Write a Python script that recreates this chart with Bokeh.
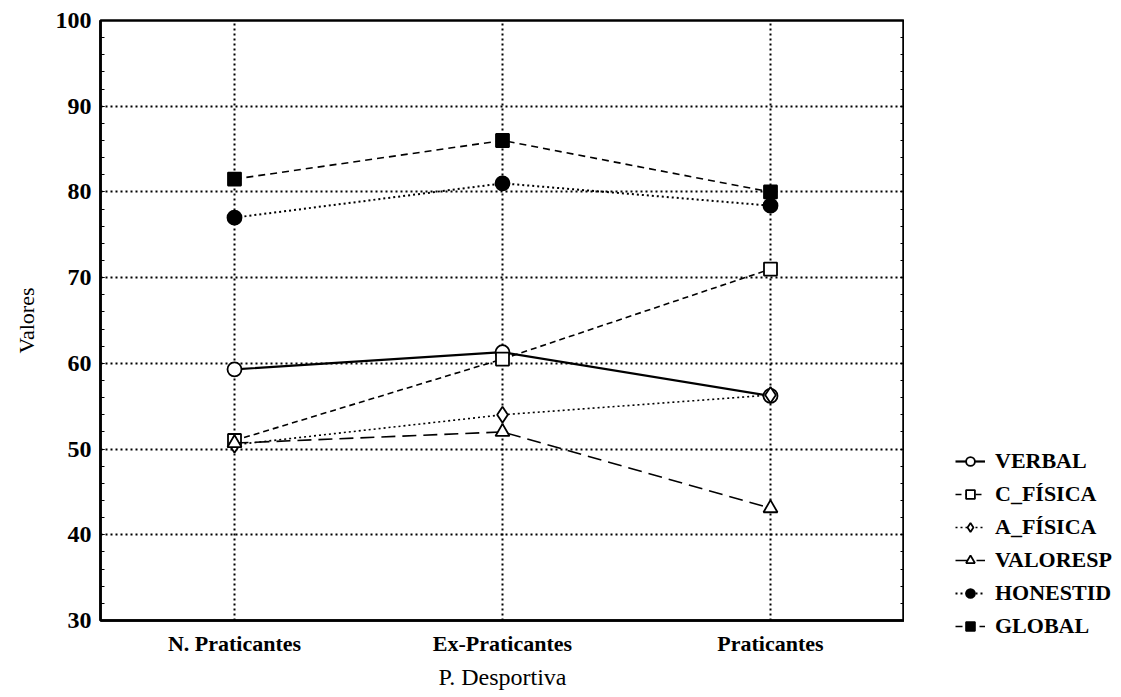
from bokeh.plotting import figure
from bokeh.layouts import row
from bokeh.models import (Range1d, FixedTicker, SingleIntervalTicker, LinearAxis,
                          Legend, LegendItem, CustomJSTickFormatter)
from bokeh.embed import file_html
from bokeh.resources import INLINE

categories = ["N. Praticantes", "Ex-Praticantes", "Praticantes"]
verbal = [59.3, 61.3, 56.2]
c_fisica = [51.0, 60.5, 71.0]
a_fisica = [50.5, 54.0, 56.3]
valoresp = [50.7, 52.0, 43.1]
honestid = [77.0, 81.0, 78.4]
global_ = [81.5, 86.0, 80.0]
y_ticks = [30, 40, 50, 60, 70, 80, 90, 100]

FONT = "Liberation Serif"
xs = list(range(1, len(categories) + 1))
H = 695

p = figure(frame_width=804, frame_height=600, output_backend="svg", toolbar_location=None,
           x_range=Range1d(0.5, len(categories) + 0.5), y_range=Range1d(30, 100),
           min_border_left=100, min_border_top=20, min_border_bottom=H - 620, min_border_right=0,
           background_fill_color="white", border_fill_color="white")
p.frame_align = False

p.outline_line_color = "black"
p.outline_line_width = 2.5

# axes
xa = p.xaxis[0]
xa.ticker = FixedTicker(ticks=xs)
xa.major_label_overrides = {x: c for x, c in zip(xs, categories)}
xa.axis_label = "P. Desportiva"
xa.major_tick_out = 0
xa.major_tick_in = 0
xa.axis_line_width = 2.5
xa.major_label_standoff = 10
xa.axis_label_standoff = 5
xa.major_label_text_font_size = "22px"
xa.axis_label_text_font_size = "24px"

ya = p.yaxis[0]
ya.ticker = SingleIntervalTicker(interval=10, num_minor_ticks=5)
ya.axis_label = "Valores"
ya.major_tick_out = 0
ya.major_tick_in = 4
ya.minor_tick_in = 4
ya.minor_tick_out = 0
ya.axis_line_width = 2.5
ya.major_label_standoff = 9
ya.axis_label_standoff = 14
ya.major_label_text_font_size = "24px"
ya.axis_label_text_font_size = "22px"

for ax in (xa, ya):
    ax.major_label_text_font = FONT
    ax.major_label_text_font_style = "bold"
    ax.major_label_text_color = "black"
    ax.axis_label_text_font = FONT
    ax.axis_label_text_font_style = "normal"
    ax.axis_label_text_color = "black"
    ax.axis_line_color = "black"

ra = LinearAxis(ticker=SingleIntervalTicker(interval=10, num_minor_ticks=5),
                formatter=CustomJSTickFormatter(code="return ''"),
                major_tick_out=0, major_tick_in=4, minor_tick_in=4, minor_tick_out=0,
                major_label_standoff=0,
                axis_line_color="black", axis_line_width=2.5)
p.add_layout(ra, "right")

# grid
p.xgrid.ticker = FixedTicker(ticks=xs)
p.ygrid.ticker = FixedTicker(ticks=y_ticks[1:-1])
for g in (p.xgrid[0], p.ygrid[0]):
    g.grid_line_color = "black"
    g.grid_line_width = 2
    g.grid_line_dash = "2 3"

series = [
    ("VERBAL", verbal, "solid", 2.2, "circle", "white"),
    ("C_FÍSICA", c_fisica, "6 4", 1.6, "square", "white"),
    ("A_FÍSICA", a_fisica, "2 3", 1.6, "diamond", "white"),
    ("VALORESP", valoresp, "14 7", 1.6, "triangle", "white"),
    ("HONESTID", honestid, "2 3", 2.0, "circle", "black"),
    ("GLOBAL", global_, "7 5", 1.6, "square", "black"),
]
sizes = {"circle": 14, "square": 13, "diamond": 16, "triangle": 14}

# legend panel figure (its ranges keep the series' own marks out of view;
# only the legend is shown there)
q = figure(width=210, height=H, output_backend="svg", toolbar_location=None,
           x_range=Range1d(100, 101), y_range=Range1d(1000, 1001), min_border=0,
           x_axis_location=None, y_axis_location=None,
           background_fill_color="white", border_fill_color="white")
q.frame_align = False
q.outline_line_color = None
q.xgrid.visible = False
q.ygrid.visible = False

items = []
for name, vals, dash, lw, marker, fill in series:
    p.line(xs, vals, line_color="black", line_width=lw, line_dash=dash)
    p.scatter(xs, vals, marker=marker, size=sizes[marker], line_color="black",
              line_width=1.8, fill_color=fill)
    ln = q.line(xs, vals, line_color="black", line_width=lw, line_dash=dash)
    sc = q.scatter(xs, vals, marker=marker, size=sizes[marker], line_color="black",
                   line_width=1.8, fill_color=fill)
    items.append(LegendItem(label=name, renderers=[ln, sc]))

legend = Legend(items=items, location=(51, 56),
                label_text_font=FONT, label_text_font_style="bold",
                label_text_font_size="22px", label_text_color="black",
                glyph_width=30, glyph_height=22, label_height=22, spacing=7,
                label_standoff=10, padding=4, margin=0,
                border_line_color=None, background_fill_alpha=0)
q.add_layout(legend, "center")

layout = row(p, q, spacing=0)
open("out.html", "w").write(file_html(layout, INLINE))
